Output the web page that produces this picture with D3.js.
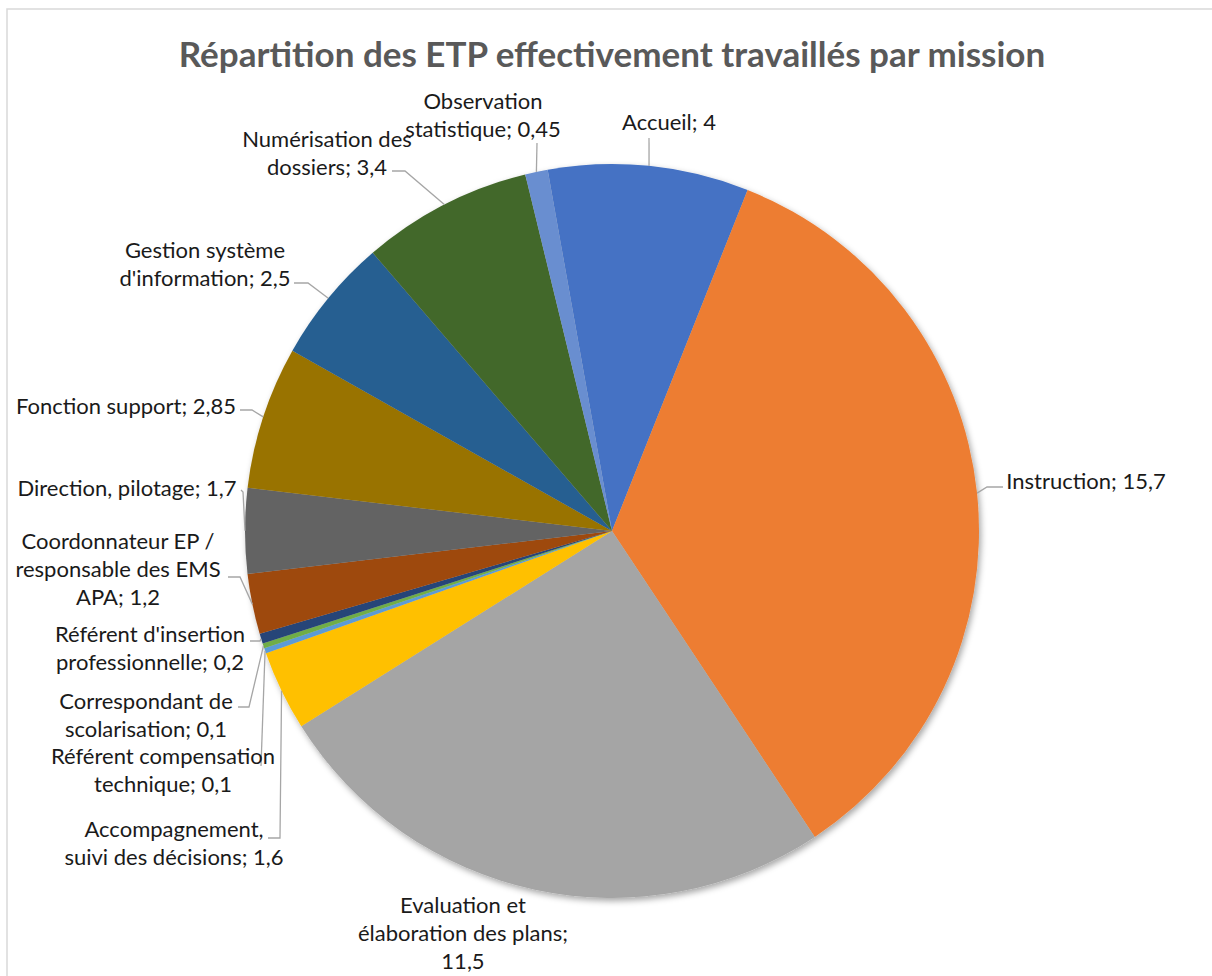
<!DOCTYPE html>
<html>
<head>
<meta charset="utf-8">
<script src="https://cdn.jsdelivr.net/npm/d3@7"></script>
<style>
  body { margin: 0; background: #fff; }
  svg { display: block; font-family: Lato, "Open Sans", sans-serif; }
</style>
</head>
<body>
<svg id="graph"></svg>
<script>
// données
var categories = [
    "Accueil",
    "Instruction",
    "Evaluation et élaboration des plans",
    "Accompagnement, suivi des décisions",
    "Référent compensation technique",
    "Correspondant de scolarisation",
    "Référent d'insertion professionnelle",
    "Coordonnateur EP / responsable des EMS APA",
    "Direction, pilotage",
    "Fonction support",
    "Gestion système d'information",
    "Numérisation des dossiers",
    "Observation statistique"
];
var values = [4, 15.7, 11.5, 1.6, 0.1, 0.1, 0.2, 1.2, 1.7, 2.85, 2.5, 3.4, 0.45];
var colors = ["#4472C4", "#ED7D31", "#A5A5A5", "#FFC000", "#5B9BD5", "#70AD47", "#264478",
              "#9E480E", "#636363", "#997300", "#255E91", "#43682B", "#698ED0"];
var title = "Répartition des ETP effectivement travaillés par mission";

// mise en page des étiquettes : centre x, y de la 1re ligne, mots par ligne, amorce du trait
var labelLayout = [
    { x: 669, y: 123, words: [2], lead: [[649, 138]] },
    { x: 1086, y: 482, words: [2], lead: [[1003, 487], [987, 487]] },
    { x: 463, y: 906, words: [2, 3, 1], lead: null },
    { x: 174, y: 830, words: [1, 4], lead: [[268, 838], [280, 838]] },
    { x: 163, y: 757, words: [2, 2], lead: [[261, 766]] },
    { x: 146, y: 702, words: [2, 2], lead: [[238, 707], [249, 707]] },
    { x: 150, y: 635, words: [2, 2], lead: [[250, 641], [260, 641]] },
    { x: 118, y: 542, words: [3, 3, 2], lead: [[228, 577], [240, 577]] },
    { x: 127, y: 489, words: [3], lead: [[241, 490], [243, 492]] },
    { x: 126, y: 407, words: [3], lead: [[240, 410], [252, 410]] },
    { x: 205, y: 251, words: [2, 2], lead: [[294, 283], [308, 283]] },
    { x: 327, y: 140, words: [2, 2], lead: [[392, 171], [405, 171]] },
    { x: 483, y: 102, words: [1, 2], lead: [[537, 143]] }
];

var width = 1212, height = 976;
var cx = 612, cy = 531, radius = 367;
var lineH = 28;

var svg = d3.select("#graph")
    .attr("width", width)
    .attr("height", height);

// cadre du graphique
svg.append("rect")
    .attr("x", 7).attr("y", 9)
    .attr("width", width + 20).attr("height", height + 20)
    .attr("fill", "none")
    .attr("stroke", "#d9d9d9")
    .attr("stroke-width", 1.5);

var defs = svg.append("defs");
var filt = defs.append("filter").attr("id", "ombre")
    .attr("x", "-10%").attr("y", "-10%").attr("width", "120%").attr("height", "120%");
filt.append("feDropShadow")
    .attr("dx", 2).attr("dy", 3)
    .attr("stdDeviation", 3)
    .attr("flood-color", "#000")
    .attr("flood-opacity", 0.35);

svg.append("text")
    .attr("x", cx)
    .attr("y", 67)
    .attr("text-anchor", "middle")
    .attr("font-size", 35)
    .attr("font-weight", "bold")
    .attr("fill", "#595959")
    .text(title);

var fr = d3.formatLocale({ decimal: ",", thousands: " ", grouping: [3], currency: ["", " €"] });
var fmt = fr.format("~r");

var data = categories.map(function (c, i) { return { name: c, value: values[i], i: i }; });

var start = -10.1 * Math.PI / 180;
var pie = d3.pie()
    .sort(null)
    .value(d => d.value)
    .startAngle(start)
    .endAngle(start + 2 * Math.PI);
var arcs = pie(data);

var arc = d3.arc().innerRadius(0).outerRadius(radius);

var g = svg.append("g").attr("transform", "translate(" + cx + "," + cy + ")");

g.append("g")
    .attr("filter", "url(#ombre)")
    .selectAll("path")
    .data(arcs)
    .enter()
    .append("path")
    .attr("d", arc)
    .attr("fill", d => colors[d.data.i]);

// traits de rappel
function edgePoint(d) {
    var a = (d.startAngle + d.endAngle) / 2;
    return [cx + radius * Math.sin(a), cy - radius * Math.cos(a)];
}

svg.append("g")
    .selectAll("polyline")
    .data(arcs.filter(d => labelLayout[d.data.i].lead))
    .enter()
    .append("polyline")
    .attr("points", function (d) {
        var pts = labelLayout[d.data.i].lead.concat([edgePoint(d)]);
        return pts.map(p => p.join(",")).join(" ");
    })
    .attr("fill", "none")
    .attr("stroke", "#a6a6a6")
    .attr("stroke-width", 1.3);

// étiquettes
var labels = svg.append("g")
    .selectAll("text")
    .data(arcs)
    .enter()
    .append("text")
    .attr("text-anchor", "middle")
    .attr("font-size", 22)
    .attr("fill", "#1a1a1a");

labels.each(function (d) {
    var lay = labelLayout[d.data.i];
    var words = (d.data.name + "; " + fmt(d.data.value)).split(" ");
    var k = 0;
    var t = d3.select(this);
    lay.words.forEach(function (n, j) {
        t.append("tspan")
            .attr("x", lay.x)
            .attr("y", lay.y + j * lineH + 7)
            .text(words.slice(k, k + n).join(" "));
        k += n;
    });
});
</script>
</body>
</html>
